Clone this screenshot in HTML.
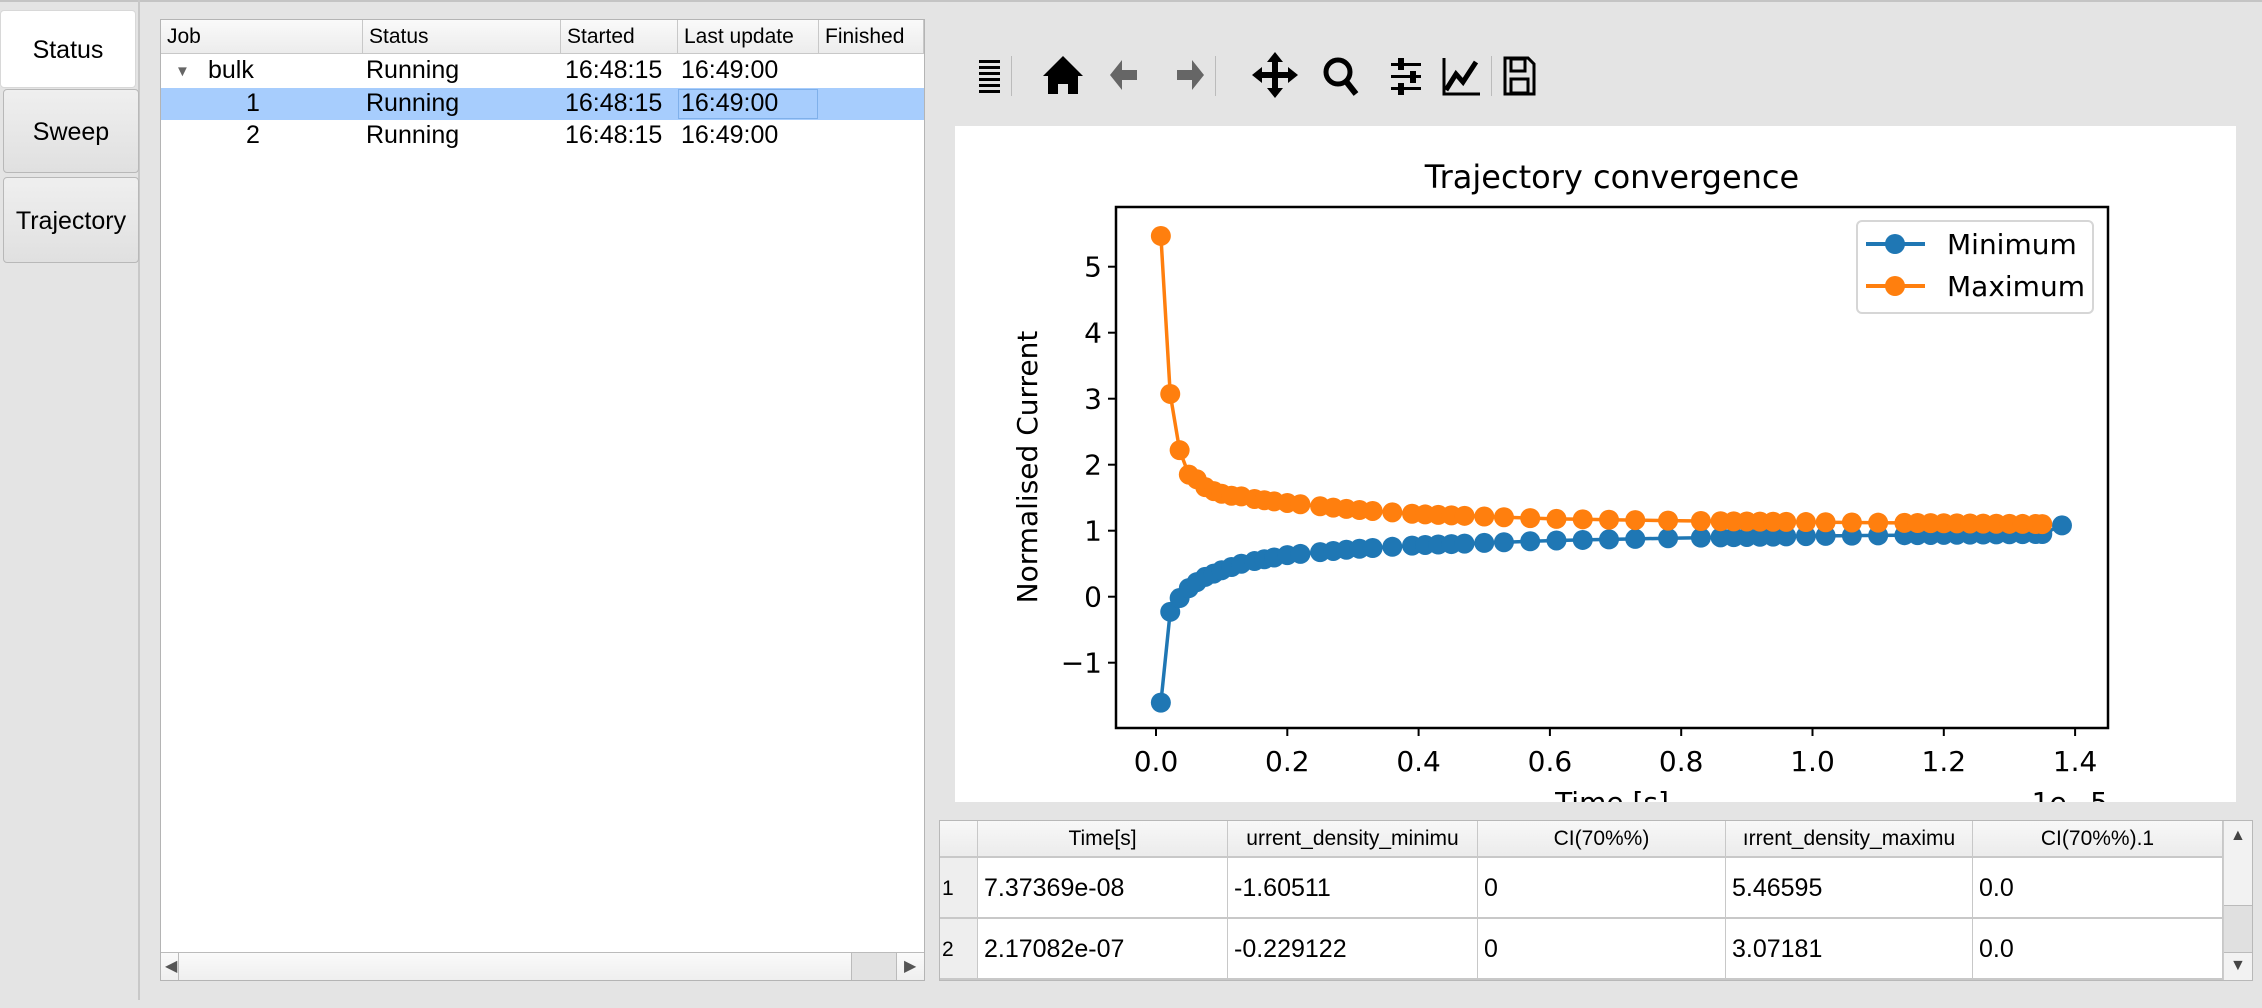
<!DOCTYPE html>
<html><head><meta charset="utf-8">
<style>
*{box-sizing:border-box;margin:0;padding:0}
body{width:2262px;height:1008px;background:#e4e4e4;position:relative;overflow:hidden;font-family:"Liberation Sans",sans-serif;color:#000}
.abs{position:absolute}
.tab{position:absolute;left:3px;width:136px;border:1px solid #b8b8b8;border-radius:4px;background:linear-gradient(#efefef,#e0e0e0);font-size:25px;text-align:center}
.hdr{position:absolute;top:0;height:34px;border-right:1px solid #c8c8c8;font-size:21px;line-height:34px;padding-left:6px;white-space:nowrap;overflow:hidden}
.cell{position:absolute;font-size:25px;white-space:nowrap}
.th{position:absolute;top:0;height:36px;border-right:1px solid #c8c8c8;font-size:21px;line-height:36px;text-align:center;overflow:hidden;white-space:nowrap;background:linear-gradient(#f8f8f8,#ebebeb)}
.td{position:absolute;height:61px;border-right:1px solid #c8c8c8;border-bottom:2px solid #c8c8c8;font-size:25px;line-height:61px;padding-left:6px;background:#fff}
</style></head><body>
<div class="abs" style="left:0;top:0;width:2262px;height:2px;background:#c4c4c4"></div>
<div class="abs" style="left:138px;top:0;width:2px;height:1000px;background:#c8c8c8"></div>
<div class="tab" style="left:0;top:10px;height:78px;background:#fff;border-color:#d8d8d8;line-height:78px">Status</div>
<div class="tab" style="top:89px;height:84px;line-height:84px">Sweep</div>
<div class="tab" style="top:177px;height:86px;line-height:86px">Trajectory</div>

<!-- tree -->
<div class="abs" style="left:160px;top:19px;width:765px;height:962px;background:#fff;border:1px solid #b4b4b4">
 <div class="abs" style="left:0;top:0;width:763px;height:34px;background:linear-gradient(#fafafa,#ececec);border-bottom:1px solid #c8c8c8">
  <div class="hdr" style="left:0;width:202px">Job</div>
  <div class="hdr" style="left:202px;width:198px">Status</div>
  <div class="hdr" style="left:400px;width:117px">Started</div>
  <div class="hdr" style="left:517px;width:141px">Last update</div>
  <div class="hdr" style="left:658px;width:105px">Finished</div>
 </div>
 <div class="abs" style="left:0;top:68px;width:763px;height:32px;background:#a7cdfd"></div>
 <div class="abs" style="left:517px;top:69px;width:140px;height:30px;border:1px solid #7fb0ea"></div>
 <div class="cell" style="left:14px;top:38px;font-size:15px;color:#666;line-height:28px">▼</div>
 <div class="cell" style="left:47px;top:36px">bulk</div>
 <div class="cell" style="left:205px;top:36px">Running</div>
 <div class="cell" style="left:404px;top:36px">16:48:15</div>
 <div class="cell" style="left:520px;top:36px">16:49:00</div>
 <div class="cell" style="left:85px;top:69px">1</div>
 <div class="cell" style="left:205px;top:69px">Running</div>
 <div class="cell" style="left:404px;top:69px">16:48:15</div>
 <div class="cell" style="left:520px;top:69px">16:49:00</div>
 <div class="cell" style="left:85px;top:101px">2</div>
 <div class="cell" style="left:205px;top:101px">Running</div>
 <div class="cell" style="left:404px;top:101px">16:48:15</div>
 <div class="cell" style="left:520px;top:101px">16:49:00</div>
 <div class="abs" style="left:0;top:932px;width:763px;height:28px;background:linear-gradient(#fafafa,#efefef);border-top:1px solid #bbb">
  <div class="abs" style="left:0;top:0;width:18px;height:27px;border-right:1px solid #bbb"></div>
  <div class="abs" style="left:4px;top:3px;font-size:16px;color:#555;line-height:22px">◀</div>
  <div class="abs" style="left:690px;top:0;width:46px;height:27px;background:#e2e2e2;border-left:1px solid #bbb;border-right:1px solid #bbb"></div>
  <div class="abs" style="left:743px;top:3px;font-size:16px;color:#555;line-height:22px">▶</div>
 </div>
</div>

<!-- toolbar -->
<svg class="abs" style="left:960px;top:50px" width="620" height="52" viewBox="0 0 620 52">
 <g fill="#000">
  <rect x="19" y="10" width="21" height="3"/><rect x="19" y="16" width="21" height="3"/><rect x="19" y="22" width="21" height="3"/><rect x="19" y="28" width="21" height="3"/><rect x="19" y="34" width="21" height="3"/><rect x="19" y="40" width="21" height="3"/>
 </g>
 <rect x="51" y="6" width="1" height="40" fill="#bbb"/>
 <path d="M103 6 L83 26 L88 26 L88 44 L98 44 L98 34 L108 34 L108 44 L118 44 L118 26 L123 26 Z" fill="#000"/>
 <path d="M150 25 L162 10 L162 20 L177 20 L177 30 L162 30 L162 40 Z" fill="#666"/>
 <path d="M244 25 L232 10 L232 20 L217 20 L217 30 L232 30 L232 40 Z" fill="#666"/>
 <rect x="255" y="6" width="1" height="40" fill="#bbb"/>
 <path d="M315 2 L307 12 L312 12 L312 22 L302 22 L302 17 L292 25 L302 33 L302 28 L312 28 L312 38 L307 38 L315 48 L323 38 L318 38 L318 28 L328 28 L328 33 L338 25 L328 17 L328 22 L318 22 L318 12 L323 12 Z" fill="#000"/>
 <circle cx="378" cy="22" r="12" fill="none" stroke="#000" stroke-width="5"/>
 <path d="M385 30 L396 44" stroke="#000" stroke-width="6"/>
 <g fill="#000"><rect x="431" y="13" width="30" height="3"/><rect x="431" y="25" width="30" height="3"/><rect x="431" y="37" width="30" height="3"/><rect x="438" y="8" width="6" height="12"/><rect x="450" y="21" width="6" height="12"/><rect x="438" y="33" width="6" height="12"/></g>
 <path d="M484 8 L484 44 L520 44" stroke="#000" stroke-width="3" fill="none"/>
 <path d="M486 40 L496 24 L503 32 L516 12" stroke="#000" stroke-width="5" fill="none"/>
 <rect x="531" y="6" width="1" height="40" fill="#bbb"/>
 <path d="M545 8 L568 8 L574 14 L574 44 L545 44 Z" fill="none" stroke="#000" stroke-width="3"/>
 <rect x="551" y="9" width="14" height="12" fill="none" stroke="#000" stroke-width="3"/>
 <rect x="551" y="29" width="17" height="14" fill="none" stroke="#000" stroke-width="3"/>
</svg>

<!-- figure -->
<svg class="abs" style="left:955px;top:126px" width="1281" height="676" viewBox="955 126 1281 676" font-family="'DejaVu Sans',sans-serif">
 <rect x="955" y="126" width="1281" height="676" fill="#fff"/>
 <text x="1612" y="188" font-size="32" text-anchor="middle">Trajectory convergence</text>
 <g id="series"></g>
 <rect x="1116" y="207" width="992" height="521" fill="none" stroke="#000" stroke-width="2.5"/>
 <g stroke="#000" stroke-width="2" id="ticks"></g>
 <g font-size="28" id="labels"></g>
 <text transform="translate(1037,467) rotate(-90)" font-size="28" text-anchor="middle">Normalised Current</text>
 <text x="1612" y="812" font-size="28" text-anchor="middle">Time [s]</text>
 <text x="2108" y="812" font-size="28" text-anchor="end">1e−5</text>
 <rect x="1857" y="221" width="236" height="92" rx="5" fill="#fff" fill-opacity="0.8" stroke="#d6d6d6" stroke-width="2"/>
 <line x1="1866" y1="244" x2="1925" y2="244" stroke="#1f77b4" stroke-width="4"/><circle cx="1895" cy="244" r="10" fill="#1f77b4"/>
 <line x1="1866" y1="286" x2="1925" y2="286" stroke="#ff7f0e" stroke-width="4"/><circle cx="1895" cy="286" r="10" fill="#ff7f0e"/>
 <text x="1947" y="254" font-size="28">Minimum</text>
 <text x="1947" y="296" font-size="28">Maximum</text>
</svg>

<!-- bottom table -->
<div class="abs" style="left:939px;top:820px;width:1314px;height:161px;background:#fff;border:1px solid #b8b8b8;overflow:hidden">
 <div class="th" style="left:0;width:38px"></div>
 <div class="th" style="left:38px;width:250px">Time[s]</div>
 <div class="th" style="left:288px;width:250px">urrent_density_minimu</div>
 <div class="th" style="left:538px;width:248px">CI(70%%)</div>
 <div class="th" style="left:786px;width:247px">ırrent_density_maximu</div>
 <div class="th" style="left:1033px;width:250px">CI(70%%).1</div>
 <div class="abs" style="left:0;top:35px;width:1283px;height:2px;background:#c8c8c8"></div>
 <div class="td" style="left:0;top:37px;width:38px;background:#eee;padding-left:2px;font-size:21px">1</div>
 <div class="td" style="left:38px;top:37px;width:250px">7.37369e-08</div>
 <div class="td" style="left:288px;top:37px;width:250px">-1.60511</div>
 <div class="td" style="left:538px;top:37px;width:248px">0</div>
 <div class="td" style="left:786px;top:37px;width:247px">5.46595</div>
 <div class="td" style="left:1033px;top:37px;width:250px">0.0</div>
 <div class="td" style="left:0;top:98px;width:38px;background:#eee;padding-left:2px;font-size:21px">2</div>
 <div class="td" style="left:38px;top:98px;width:250px">2.17082e-07</div>
 <div class="td" style="left:288px;top:98px;width:250px">-0.229122</div>
 <div class="td" style="left:538px;top:98px;width:248px">0</div>
 <div class="td" style="left:786px;top:98px;width:247px">3.07181</div>
 <div class="td" style="left:1033px;top:98px;width:250px">0.0</div>
 <div class="abs" style="left:1283px;top:0;width:30px;height:161px;background:#f2f2f2;border-left:1px solid #ccc">
  <div class="abs" style="left:6px;top:6px;font-size:16px;color:#444">▲</div>
  <div class="abs" style="left:0;top:84px;width:30px;height:48px;background:#e0e0e0;border-top:1px solid #bbb;border-bottom:1px solid #bbb"></div>
  <div class="abs" style="left:6px;top:136px;font-size:16px;color:#444">▼</div>
 </div>
</div>

<script>
(function(){
 var NS="http://www.w3.org/2000/svg";
 function X(t){return 1156+656.5*t}
 function Y(v){return 596.7-66*v}
 var ts=[0.0074,0.0217,0.036,0.05,0.062,0.075,0.088,0.1,0.115,0.13,0.15,0.165,0.18,0.2,0.22,0.25,0.27,0.29,0.31,0.33,0.36,0.39,0.41,0.43,0.45,0.47,0.5,0.53,0.57,0.61,0.65,0.69,0.73,0.78,0.83,0.86,0.88,0.9,0.92,0.94,0.96,0.99,1.02,1.06,1.1,1.14,1.16,1.18,1.2,1.22,1.24,1.26,1.28,1.3,1.32,1.34,1.35];
 function interp(A,t){for(var i=0;i<A.length-1;i++){if(t<=A[i+1][0]){var f=(t-A[i][0])/(A[i+1][0]-A[i][0]);return A[i][1]+f*(A[i+1][1]-A[i][1]);}}return A[A.length-1][1];}
 var MN=[[0.0074,-1.605],[0.0217,-0.229],[0.036,-0.02],[0.05,0.13],[0.062,0.22],[0.075,0.3],[0.088,0.35],[0.1,0.4],[0.115,0.45],[0.13,0.5],[0.15,0.54],[0.2,0.63],[0.3,0.72],[0.4,0.78],[0.6,0.85],[0.8,0.89],[1.0,0.92],[1.35,0.95]];
 var MX=[[0.0074,5.466],[0.0217,3.072],[0.036,2.22],[0.05,1.85],[0.062,1.78],[0.075,1.66],[0.088,1.6],[0.1,1.56],[0.115,1.53],[0.13,1.52],[0.15,1.48],[0.2,1.42],[0.3,1.32],[0.4,1.25],[0.6,1.18],[0.8,1.15],[1.0,1.13],[1.35,1.1]];
 var mn=ts.map(function(t){return interp(MN,t)});
 var mx=ts.map(function(t){return interp(MX,t)});
 var tmn=ts.concat([1.38]);mn.push(1.08);
 var g=document.getElementById("series");
 function draw(tt,vv,c){
  var p=tt.map(function(t,i){return X(t).toFixed(1)+","+Y(vv[i]).toFixed(1)}).join(" ");
  var pl=document.createElementNS(NS,"polyline");
  pl.setAttribute("points",p);pl.setAttribute("fill","none");pl.setAttribute("stroke",c);pl.setAttribute("stroke-width","3.5");g.appendChild(pl);
  tt.forEach(function(t,i){var ci=document.createElementNS(NS,"circle");ci.setAttribute("cx",X(t));ci.setAttribute("cy",Y(vv[i]));ci.setAttribute("r","10");ci.setAttribute("fill",c);g.appendChild(ci);});
 }
 draw(tmn,mn,"#1f77b4");draw(ts,mx,"#ff7f0e");
 var tk=document.getElementById("ticks"),lb=document.getElementById("labels");
 function el(tag,a,par,txt){var e=document.createElementNS(NS,tag);for(var k in a)e.setAttribute(k,a[k]);if(txt)e.textContent=txt;par.appendChild(e);}
 for(var i=0;i<=7;i++){var t=i*0.2,x=X(t);el("line",{x1:x,y1:728,x2:x,y2:736},tk);el("text",{x:x,y:771,"text-anchor":"middle"},lb,t.toFixed(1));}
 for(var v=-1;v<=5;v++){var y=Y(v);el("line",{x1:1108,y1:y,x2:1116,y2:y},tk);el("text",{x:1102,y:y+10,"text-anchor":"end"},lb,v<0?"−"+(-v):""+v);}
})();
</script>
</body></html>
